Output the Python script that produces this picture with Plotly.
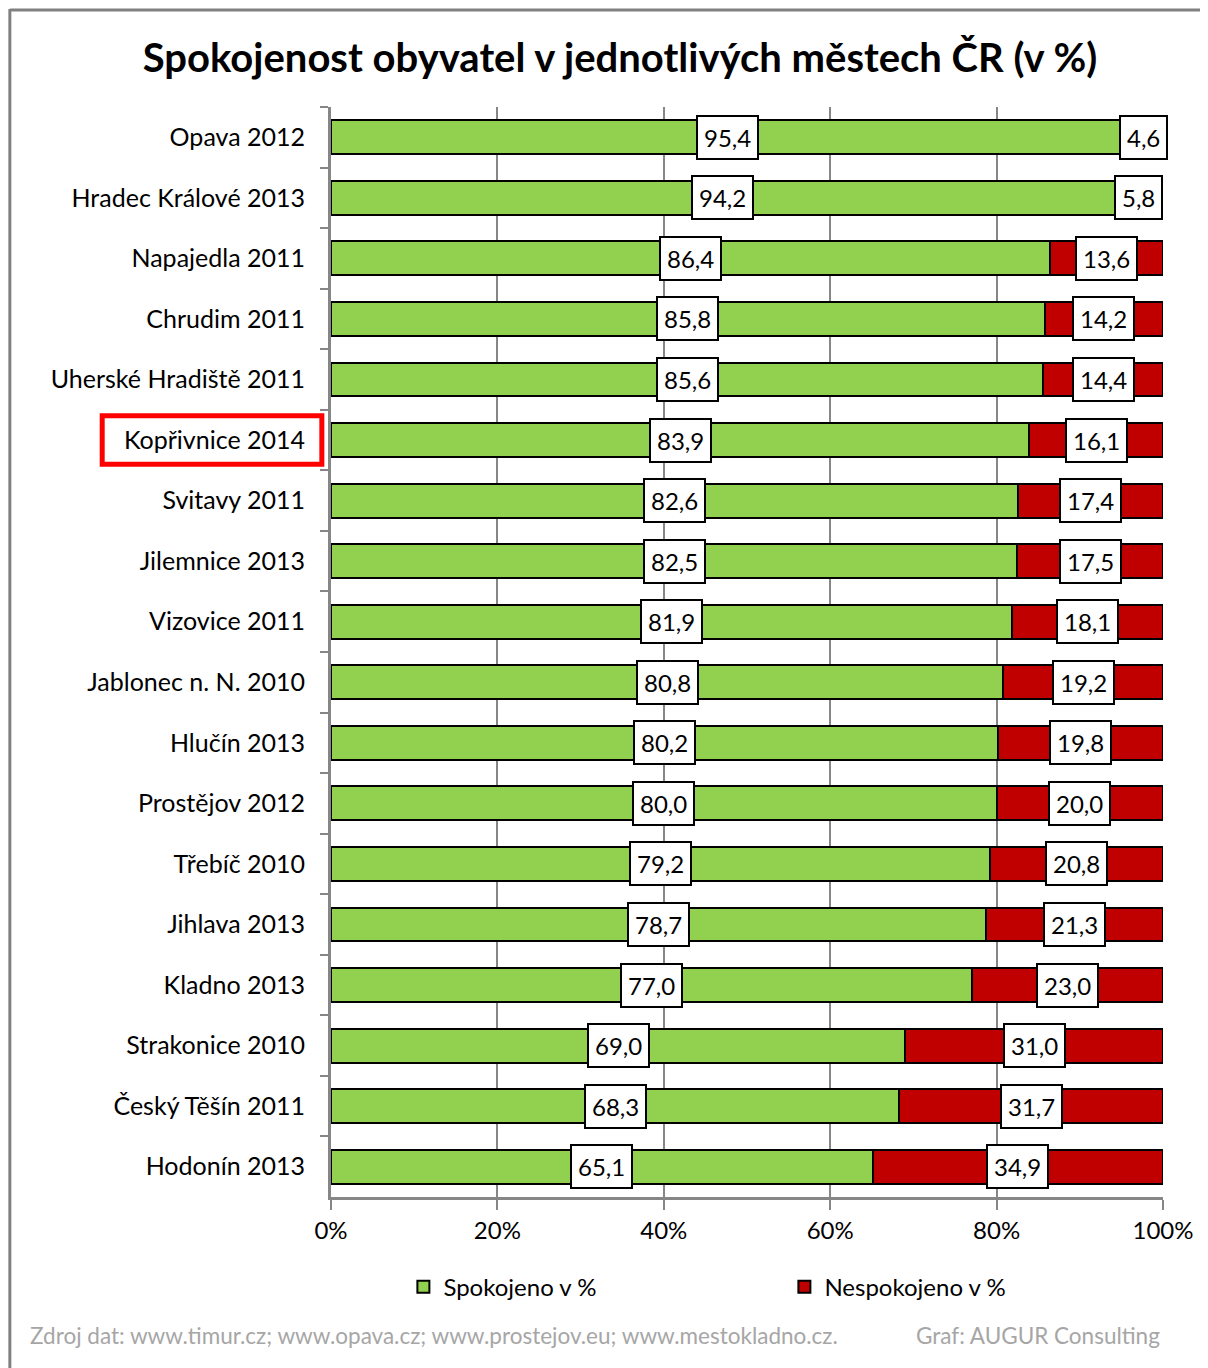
import plotly.graph_objects as go

# Data
mesta = [
    "Opava 2012", "Hradec Králové 2013", "Napajedla 2011", "Chrudim 2011",
    "Uherské Hradiště 2011", "Kopřivnice 2014", "Svitavy 2011", "Jilemnice 2013",
    "Vizovice 2011", "Jablonec n. N. 2010", "Hlučín 2013", "Prostějov 2012",
    "Třebíč 2010", "Jihlava 2013", "Kladno 2013", "Strakonice 2010",
    "Český Těšín 2011", "Hodonín 2013",
]
spokojeno = [95.4, 94.2, 86.4, 85.8, 85.6, 83.9, 82.6, 82.5, 81.9, 80.8,
             80.2, 80.0, 79.2, 78.7, 77.0, 69.0, 68.3, 65.1]
nespokojeno = [4.6, 5.8, 13.6, 14.2, 14.4, 16.1, 17.4, 17.5, 18.1, 19.2,
               19.8, 20.0, 20.8, 21.3, 23.0, 31.0, 31.7, 34.9]
tick_vals = [0, 20, 40, 60, 80, 100]
tick_text = ["0%", "20%", "40%", "60%", "80%", "100%"]
zvyrazneno = "Kopřivnice 2014"

FONT = "Lato"
GREEN = "#92D050"
RED = "#C00000"

fig = go.Figure()
fig.add_trace(go.Bar(
    y=mesta, x=spokojeno, orientation="h", name="Spokojeno v %",
    marker=dict(color=GREEN, line=dict(color="black", width=2)),
))
fig.add_trace(go.Bar(
    y=mesta, x=nespokojeno, orientation="h", name="Nespokojeno v %",
    marker=dict(color=RED, line=dict(color="black", width=2)),
))

# popisky v bilych ramecich
def fmt(v):
    return f"{v:.1f}".replace(".", ",")

for m, s, n in zip(mesta, spokojeno, nespokojeno):
    for xpos, val in ((s / 2, s), (s + n / 2, n)):
        fig.add_annotation(
            x=xpos, y=m, text=fmt(val), showarrow=False,
            font=dict(family=FONT, size=24, color="black"),
            bgcolor="white", bordercolor="black", borderwidth=2, borderpad=6,
        )

# cerveny ramecek kolem Koprivnice
idx = mesta.index(zvyrazneno)
fig.add_shape(
    type="rect", xref="paper", yref="y",
    x0=-0.275, x1=-0.011, y0=idx - 0.4, y1=idx + 0.4,
    line=dict(color="#FF0000", width=5),
)

# zdroj a autor
fig.add_annotation(
    xref="paper", yref="paper", x=-0.364, y=-0.127, xanchor="left", yanchor="middle",
    text="Zdroj dat: www.timur.cz; www.opava.cz; www.prostejov.eu; www.mestokladno.cz.",
    showarrow=False, font=dict(family=FONT, size=22.5, color="#A6A6A6"),
)
fig.add_annotation(
    xref="paper", yref="paper", x=0.999, y=-0.127, xanchor="right", yanchor="middle",
    text="Graf: AUGUR Consulting",
    showarrow=False, font=dict(family=FONT, size=22.5, color="#A6A6A6"),
)

# ramecek grafu (vlevo a nahore)
fig.add_shape(type="line", xref="paper", yref="paper",
              x0=-0.386, x1=-0.386, y0=1.09, y1=-0.2,
              line=dict(color="#808080", width=3))
fig.add_shape(type="line", xref="paper", yref="paper",
              x0=-0.386, x1=1.1, y0=1.089, y1=1.089,
              line=dict(color="#808080", width=3))

fig.update_layout(
    width=1200, height=1360,
    barmode="stack", bargap=0.44,
    plot_bgcolor="white", paper_bgcolor="white",
    title=dict(
        text="<b>Spokojenost obyvatel v jednotlivých městech ČR (v %)</b>",
        x=0.51, xanchor="center", y=0.9635, yanchor="middle",
        font=dict(family=FONT, size=40, color="black"),
    ),
    margin=dict(l=323, r=45, t=99, b=171),
    xaxis=dict(
        range=[0, 100], tickvals=tick_vals, ticktext=tick_text,
        showgrid=True, gridcolor="#868686", gridwidth=2,
        showline=True, linecolor="#868686", linewidth=3,
        ticks="outside", ticklen=10, tickwidth=2, tickcolor="#868686",
        tickfont=dict(family=FONT, size=24, color="black"),
        zeroline=False,
    ),
    yaxis=dict(
        autorange="reversed", type="category",
        showline=True, linecolor="#868686", linewidth=3,
        ticks="outside", ticklen=8, tickwidth=2, tickcolor="#868686",
        tickson="boundaries", ticklabelstandoff=18,
        tickfont=dict(family=FONT, size=25, color="black"),
    ),
    legend=dict(
        orientation="h", x=0.087, xanchor="left", y=-0.0826, yanchor="middle",
        font=dict(family=FONT, size=24, color="black"),
        entrywidth=336, entrywidthmode="pixels", traceorder="normal",
    ),
)

fig.write_html("out.html")
